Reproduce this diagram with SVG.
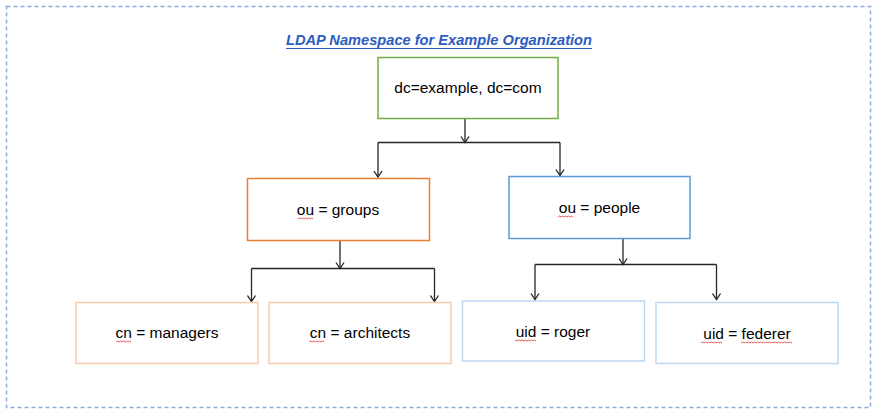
<svg xmlns="http://www.w3.org/2000/svg" width="879" height="416" viewBox="0 0 879 416">
<defs>
<marker id="arr" markerWidth="10" markerHeight="10" refX="8.5" refY="5" orient="auto" markerUnits="userSpaceOnUse" viewBox="0 0 10 10">
<polyline points="2.5,1 8.5,5 2.5,9" fill="none" stroke="#262626" stroke-width="1.3"/>
</marker>
</defs>
<style>
.box{fill:#ffffff;stroke-width:1.5}
.lbl{font-family:"Liberation Sans",Arial,sans-serif;font-size:15.5px;fill:#000;text-anchor:middle}
.con{fill:none;stroke:#262626;stroke-width:1.3}
.sq{fill:none;stroke:#e03030;stroke-width:0.8}
</style>
<rect x="0" y="0" width="879" height="416" fill="#ffffff"/>
<rect x="6.5" y="6.5" width="864" height="401" fill="none" stroke="#8eaadb" stroke-width="1.5" stroke-dasharray="4,3"/>
<g id="title">
<text x="439" y="45" font-family="'Liberation Sans',Arial,sans-serif" font-size="14" font-weight="bold" font-style="italic" fill="#2e5cbf" text-anchor="middle" textLength="306" lengthAdjust="spacingAndGlyphs">LDAP Namespace for Example Organization</text>
<line x1="286" y1="48.5" x2="592" y2="48.5" stroke="#2e5cbf" stroke-width="1"/>
</g>
<g id="connectors">
<path class="con" d="M465,118 V142.5" marker-end="url(#arr)"/>
<path class="con" d="M378,142.5 H560"/>
<path class="con" d="M378,142.5 V177" marker-end="url(#arr)"/>
<path class="con" d="M560,142.5 V175.5" marker-end="url(#arr)"/>
<path class="con" d="M340,240 V268.5" marker-end="url(#arr)"/>
<path class="con" d="M251.5,268.5 H434.5"/>
<path class="con" d="M251.5,268.5 V301.5" marker-end="url(#arr)"/>
<path class="con" d="M434.5,268.5 V301.5" marker-end="url(#arr)"/>
<path class="con" d="M623,238 V264.5" marker-end="url(#arr)"/>
<path class="con" d="M535,264.5 H716.5"/>
<path class="con" d="M535,264.5 V299.5" marker-end="url(#arr)"/>
<path class="con" d="M716.5,264.5 V299.5" marker-end="url(#arr)"/>
</g>
<g id="root">
<rect class="box" x="378" y="57.5" width="180" height="61" stroke="#70ad47"/>
<text class="lbl" x="468" y="93">dc=example, dc=com</text>
</g>
<g id="groups">
<rect class="box" x="247.5" y="178.5" width="182" height="62" stroke="#ed7d31"/>
<text class="lbl" x="338" y="215">ou = groups</text>
<path class="sq" d="M298,219 l1.5,-1 l1.5,1 l1.5,-1 l1.5,1 l1.5,-1 l1.5,1 l1.5,-1 l1.5,1 l1.5,-1 l1.5,1"/>
</g>
<g id="people">
<rect class="box" x="509" y="176.5" width="181" height="62" stroke="#5b9bd5"/>
<text class="lbl" x="599.5" y="213">ou = people</text>
<path class="sq" d="M558,217 l1.5,-1 l1.5,1 l1.5,-1 l1.5,1 l1.5,-1 l1.5,1 l1.5,-1 l1.5,1 l1.5,-1 l1.5,1"/>
</g>
<g id="managers">
<rect class="box" x="76" y="302.5" width="182" height="61" stroke="#f8cbad"/>
<text class="lbl" x="167" y="338">cn = managers</text>
<path class="sq" d="M116,342 l1.5,-1 l1.5,1 l1.5,-1 l1.5,1 l1.5,-1 l1.5,1 l1.5,-1 l1.5,1 l1.5,-1 l1.5,1"/>
</g>
<g id="architects">
<rect class="box" x="269" y="302.5" width="182" height="61" stroke="#f8cbad"/>
<text class="lbl" x="360" y="338">cn = architects</text>
<path class="sq" d="M309,342 l1.5,-1 l1.5,1 l1.5,-1 l1.5,1 l1.5,-1 l1.5,1 l1.5,-1 l1.5,1 l1.5,-1 l1.5,1"/>
</g>
<g id="roger">
<rect class="box" x="462.5" y="301" width="182" height="60" stroke="#bdd7ee"/>
<text class="lbl" x="553" y="337">uid = roger</text>
<path class="sq" d="M515,341 l1.5,-1 l1.5,1 l1.5,-1 l1.5,1 l1.5,-1 l1.5,1 l1.5,-1 l1.5,1 l1.5,-1 l1.5,1 l1.5,-1 l1.5,1 l1.5,-1 l1.5,1"/>
</g>
<g id="federer">
<rect class="box" x="656" y="302.5" width="182" height="61" stroke="#bdd7ee"/>
<text class="lbl" x="747" y="339">uid = federer</text>
<path class="sq" d="M701,343 l1.5,-1 l1.5,1 l1.5,-1 l1.5,1 l1.5,-1 l1.5,1 l1.5,-1 l1.5,1 l1.5,-1 l1.5,1 l1.5,-1 l1.5,1 l1.5,-1 l1.5,1"/>
<path class="sq" d="M741,343 l1.5,-1 l1.5,1 l1.5,-1 l1.5,1 l1.5,-1 l1.5,1 l1.5,-1 l1.5,1 l1.5,-1 l1.5,1 l1.5,-1 l1.5,1 l1.5,-1 l1.5,1 l1.5,-1 l1.5,1 l1.5,-1 l1.5,1 l1.5,-1 l1.5,1 l1.5,-1 l1.5,1 l1.5,-1 l1.5,1 l1.5,-1 l1.5,1 l1.5,-1 l1.5,1 l1.5,-1 l1.5,1 l1.5,-1 l1.5,1 l1.5,-1 l1.5,1"/>
</g>
</svg>
